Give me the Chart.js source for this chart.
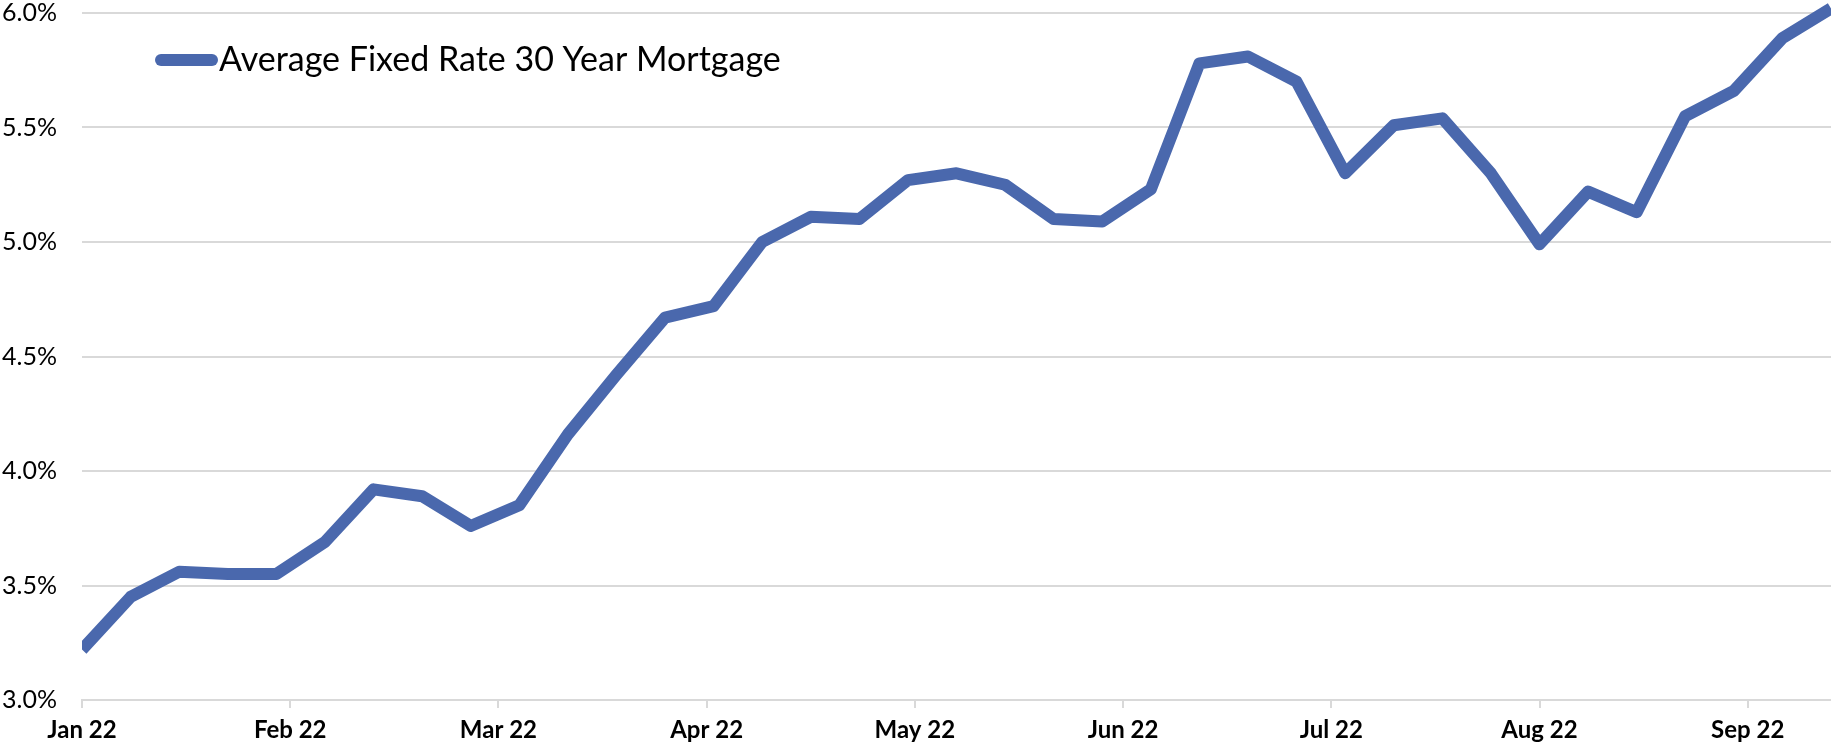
<!DOCTYPE html>
<html>
<head>
<meta charset="utf-8">
<script src="https://cdn.jsdelivr.net/npm/chart.js@4.4.1/dist/chart.umd.min.js"></script>
<style>
  html, body { margin: 0; padding: 0; background: #ffffff; }
  #wrap { width: 1831px; height: 746px; }
</style>
</head>
<body>
<div id="wrap"><canvas id="c" width="1831" height="746"></canvas></div>
<script>
// ---- Data (weekly) ----
const SERIES_LABEL = 'Average Fixed Rate 30 Year Mortgage';
const WEEK_DATES = [
  '2022-01-06','2022-01-13','2022-01-20','2022-01-27',
  '2022-02-03','2022-02-10','2022-02-17','2022-02-24',
  '2022-03-03','2022-03-10','2022-03-17','2022-03-24','2022-03-31',
  '2022-04-07','2022-04-14','2022-04-21','2022-04-28',
  '2022-05-05','2022-05-12','2022-05-19','2022-05-26',
  '2022-06-02','2022-06-09','2022-06-16','2022-06-23','2022-06-30',
  '2022-07-07','2022-07-14','2022-07-21','2022-07-28',
  '2022-08-04','2022-08-11','2022-08-18','2022-08-25',
  '2022-09-01','2022-09-08','2022-09-15'
];
const RATES = [
  3.22, 3.45, 3.56, 3.55,
  3.55, 3.69, 3.92, 3.89,
  3.76, 3.85, 4.16, 4.42, 4.67,
  4.72, 5.00, 5.11, 5.10,
  5.27, 5.30, 5.25, 5.10,
  5.09, 5.23, 5.78, 5.81, 5.70,
  5.30, 5.51, 5.54, 5.30,
  4.99, 5.22, 5.13, 5.55,
  5.66, 5.89, 6.02
];
const X_TICK_LABELS = ['Jan 22','Feb 22','Mar 22','Apr 22','May 22','Jun 22','Jul 22','Aug 22','Sep 22'];
const X_TICK_STEP_DAYS = 30;
const Y_TICKS = [3.0, 3.5, 4.0, 4.5, 5.0, 5.5, 6.0];

// ---- Build points (days since first observation) ----
const DAY = 86400000;
const t0 = Date.parse(WEEK_DATES[0] + 'T00:00:00Z');
const points = WEEK_DATES.map((d, i) => ({
  x: Math.round((Date.parse(d + 'T00:00:00Z') - t0) / DAY),
  y: RATES[i]
}));
const lastDay = points[points.length - 1].x;

const LINE_COLOR = '#4A68AD';
const GRID_COLOR = '#d9d9d9';
const FONT = 'Lato, "Open Sans", sans-serif';

const legendLine = {
  id: 'legendLine',
  afterDraw(chart) {
    const ctx = chart.ctx;
    const ds = chart.data.datasets[0];
    ctx.save();
    ctx.strokeStyle = ds.borderColor;
    ctx.lineWidth = 12;
    ctx.lineCap = 'round';
    ctx.beginPath();
    ctx.moveTo(161, 60);
    ctx.lineTo(212, 60);
    ctx.stroke();
    ctx.fillStyle = '#000000';
    ctx.font = '34px ' + FONT;
    ctx.textBaseline = 'middle';
    ctx.textAlign = 'left';
    ctx.fillText(ds.label, 219, 60);
    ctx.restore();
  }
};

new Chart(document.getElementById('c'), {
  type: 'line',
  data: {
    datasets: [{
      label: SERIES_LABEL,
      data: points,
      borderColor: LINE_COLOR,
      backgroundColor: LINE_COLOR,
      borderWidth: 12,
      pointRadius: 0,
      pointHoverRadius: 0,
      tension: 0,
      borderJoinStyle: 'round',
      borderCapStyle: 'butt',
      clip: { left: 0, top: 20, right: 20, bottom: 0 }
    }]
  },
  options: {
    responsive: false,
    animation: false,
    events: [],
    layout: { padding: { top: 13, right: 0, bottom: 0, left: 0 }, autoPadding: false },
    plugins: {
      legend: { display: false },
      tooltip: { enabled: false }
    },
    scales: {
      x: {
        type: 'linear',
        min: 0,
        max: lastDay,
        grid: { drawOnChartArea: false, drawTicks: true, tickLength: 8, color: GRID_COLOR, lineWidth: 2 },
        border: { display: true, color: GRID_COLOR, width: 2 },
        ticks: {
          stepSize: X_TICK_STEP_DAYS,
          includeBounds: false,
          autoSkip: false,
          maxRotation: 0,
          padding: 8,
          color: '#000000',
          font: { family: FONT, size: 24, weight: 'bold' },
          callback: (v) => X_TICK_LABELS[Math.round(v / X_TICK_STEP_DAYS)] || ''
        },
        afterFit: (s) => { s.height = 46; s.paddingLeft = 0; s.paddingRight = 0; }
      },
      y: {
        min: Y_TICKS[0],
        max: Y_TICKS[Y_TICKS.length - 1],
        grid: { drawTicks: false, color: GRID_COLOR, lineWidth: 2 },
        border: { display: false },
        ticks: {
          stepSize: 0.5,
          padding: 25,
          color: '#000000',
          font: { family: FONT, size: 25, lineHeight: 1 },
          callback: (v) => Number(v).toFixed(1) + '%'
        },
        afterFit: (s) => { s.width = 82; s.paddingTop = 0; s.paddingBottom = 0; }
      }
    }
  },
  plugins: [legendLine]
});
</script>
</body>
</html>
